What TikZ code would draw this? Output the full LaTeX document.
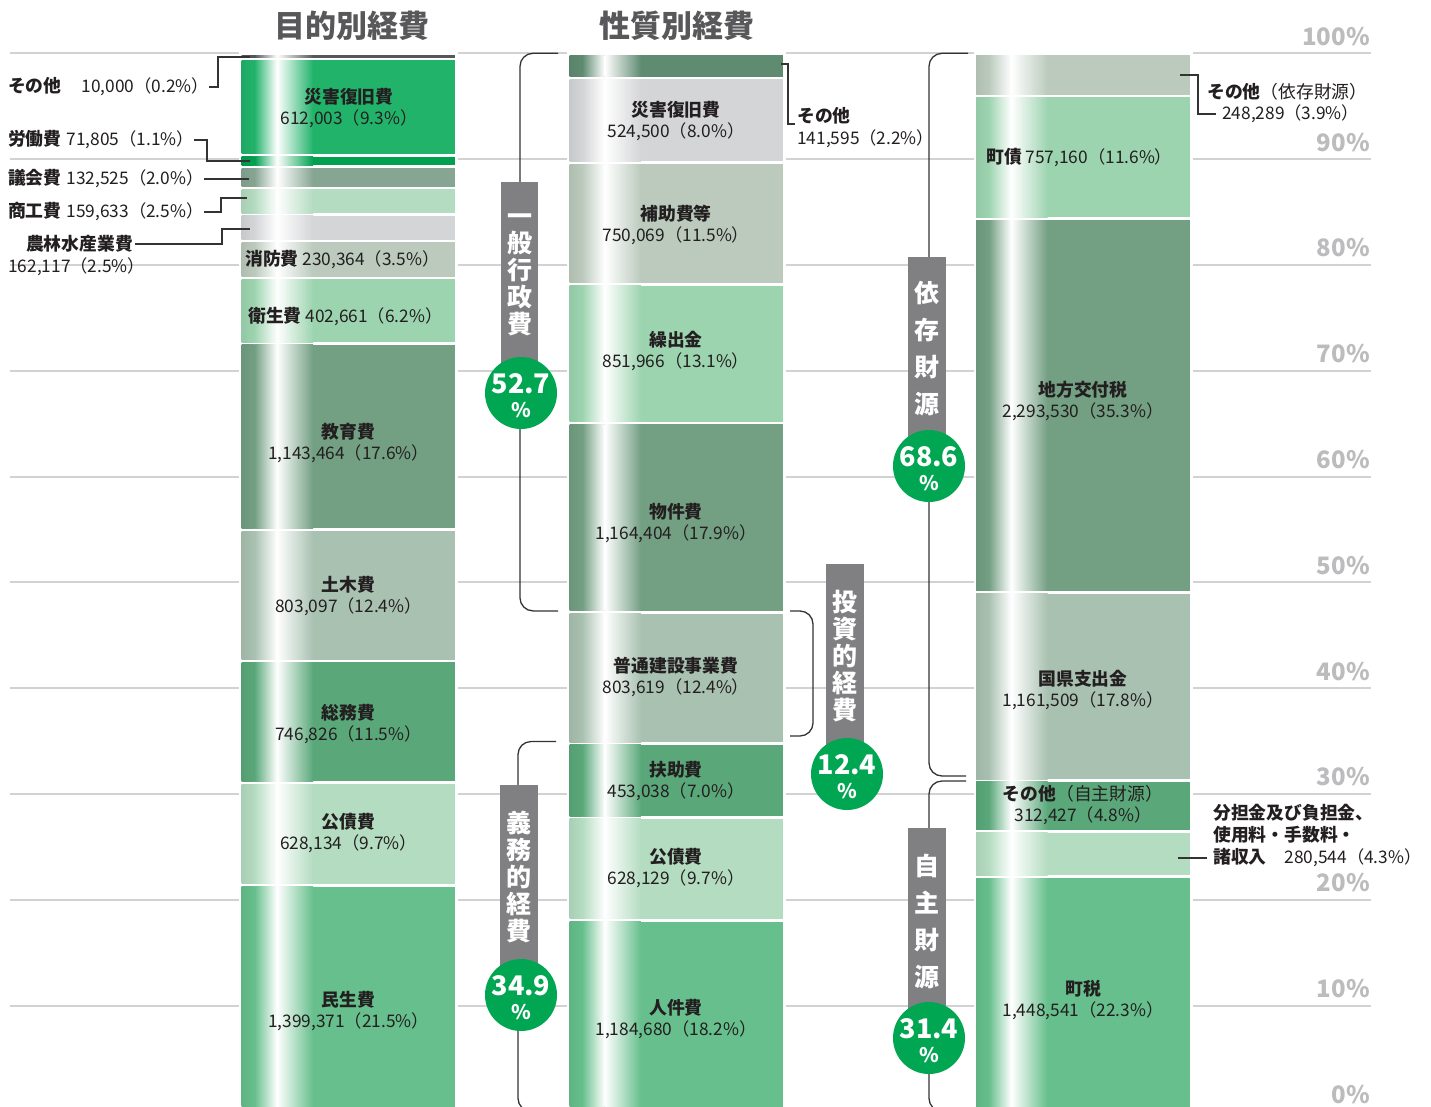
\documentclass[tikz,border=0pt]{standalone}
\usepackage{fontspec}
\setmainfont{Noto Sans CJK JP}
\usetikzlibrary{calc}
\definecolor{gridc}{HTML}{D2D2D3}
\definecolor{linec}{HTML}{333333}
\definecolor{txtc}{HTML}{231F20}
\definecolor{axc}{HTML}{BCBCBE}
\definecolor{titc}{HTML}{58585A}
\definecolor{boxc}{HTML}{808083}
\definecolor{badgec}{HTML}{00A651}
\definecolor{cDk}{HTML}{555759}
\definecolor{cSai}{HTML}{22B36B}
\definecolor{cRou}{HTML}{00A04F}
\definecolor{cGik}{HTML}{86A592}
\definecolor{cLt}{HTML}{B4DCC1}
\definecolor{cGr}{HTML}{D4D5D7}
\definecolor{cGg}{HTML}{BBCABD}
\definecolor{cMl}{HTML}{9DD4B0}
\definecolor{cDg}{HTML}{739F83}
\definecolor{cTg}{HTML}{A9C1B1}
\definecolor{cMg}{HTML}{5AA87A}
\definecolor{cMd}{HTML}{66BF8C}
\definecolor{cOt}{HTML}{5F8B71}
\newcommand\barseg[5]{%
  \pgfmathsetmacro\bsS{#1+0.06*(#2-#1)}%
  \pgfmathsetmacro\bsA{#1+0.165*(#2-#1)}%
  \pgfmathsetmacro\bsC{#1+0.335*(#2-#1)}%
  \fill[#5] (#1,#3) rectangle (#2,#4);
  \shade[left color=#5!94!black, right color=#5] (#1,#3) rectangle (\bsS,#4);
  \shade[left color=#5, right color=white] (\bsS,#3) rectangle (\bsA,#4);
  \shade[left color=white, right color=#5] (\bsA,#3) rectangle (\bsC,#4);
}
\newcommand\bt[1]{{\bfseries\fontsize{17.8}{20}\selectfont #1}}
\newcommand\inlab[5]{\node[bld] (#1a) at (#2,#3) {#4}; \node[num] (#1b) at (#2,#3+22) {#5};}
\begin{document}
\begin{tikzpicture}[x=1pt,y=-1pt,
  gridln/.style={draw=gridc, line width=2pt},
  brk/.style={draw=linec, line width=1.3pt, rounded corners=13pt},
  lead/.style={draw=linec, line width=1.2pt},
  num/.style={inner sep=0pt, text=txtc, font=\fontsize{17.3}{19}\selectfont},
  bld/.style={inner sep=0pt, text=txtc, font=\bfseries\fontsize{17.8}{20}\selectfont},
  axlbl/.style={inner sep=0pt, text=axc, font=\bfseries\fontsize{24}{26}\selectfont},
  ttl/.style={inner sep=0pt, text=titc, font=\bfseries\fontsize{31}{33}\selectfont},
  vtxt/.style={inner sep=0pt, text=white, align=center, font=\bfseries\fontsize{25}{27}\selectfont},
  vtxtw/.style={inner sep=0pt, text=white, align=center, font=\bfseries\fontsize{25}{37}\selectfont},
  badge/.style={circle, fill=badgec, minimum size=72pt, inner sep=0pt},
  bnum/.style={inner sep=0pt, text=white, font=\bfseries\fontsize{27}{28}\selectfont},
  bpct/.style={inner sep=0pt, text=white, font=\bfseries\fontsize{20}{22}\selectfont},
]
\clip (0,0) rectangle (1431,1106);
\fill[white] (0,0) rectangle (1431,1106);
% grid and axis labels
\foreach \p in {0,10,...,100} {
  \pgfmathsetmacro\gy{53.3+(100-\p)*10.58}
  \draw[gridln] (10,\gy) -- (1371,\gy);
  \node[axlbl, anchor=base east] (ax\p) at (1370,\gy-8) {\p\%};
}
% titles
\node[ttl] (t1) at (352,26) {目的別経費};
\node[ttl] (t2) at (677,26) {性質別経費};
% white bar backgrounds
\fill[white] (239,50) rectangle (458,1112);
\fill[white] (567,50) rectangle (785.5,1112);
\fill[white] (973.5,50) rectangle (1192.5,1112);
% column 1
\barseg{241.7}{455}{55.3}{57.5}{cDk}
\barseg{241.7}{455}{60}{153.8}{cSai}
\barseg{241.7}{455}{156.6}{165.4}{cRou}
\barseg{241.7}{455}{168.2}{186.6}{cGik}
\barseg{241.7}{455}{189.4}{213.0}{cLt}
\barseg{241.7}{455}{215.8}{239.5}{cGr}
\barseg{241.7}{455}{242.3}{276.5}{cGg}
\barseg{241.7}{455}{279.3}{342.1}{cMl}
\barseg{241.7}{455}{344.9}{528.3}{cDg}
\barseg{241.7}{455}{531.1}{659.5}{cTg}
\barseg{241.7}{455}{662.3}{781.2}{cMg}
\barseg{241.7}{455}{784.0}{883.8}{cLt}
\barseg{241.7}{455}{886.6}{1112}{cMd}
% column 2
\barseg{569.5}{782.7}{55}{76.6}{cOt}
\barseg{569.5}{782.7}{79.4}{161.2}{cGr}
\barseg{569.5}{782.7}{164.0}{282.9}{cGg}
\barseg{569.5}{782.7}{285.7}{421.5}{cMl}
\barseg{569.5}{782.7}{424.3}{610.9}{cDg}
\barseg{569.5}{782.7}{613.7}{742.1}{cTg}
\barseg{569.5}{782.7}{744.9}{816.1}{cMg}
\barseg{569.5}{782.7}{818.9}{918.8}{cLt}
\barseg{569.5}{782.7}{921.6}{1112}{cMd}
% column 3
\barseg{976}{1189.5}{55}{94.6}{cGg}
\barseg{976}{1189.5}{97.4}{217.3}{cMl}
\barseg{976}{1189.5}{220.1}{590.8}{cDg}
\barseg{976}{1189.5}{593.6}{779.1}{cTg}
\barseg{976}{1189.5}{781.9}{829.9}{cMg}
\barseg{976}{1189.5}{832.7}{875.4}{cLt}
\barseg{976}{1189.5}{878.2}{1112}{cMd}
% brackets
\coordinate (A1) at (558,53.3); \coordinate (A2) at (558,610.9);
\draw[brk] (A1) -- ++(-38,0) |- (A2);
\coordinate (B1) at (556,741.5); \coordinate (B2) at (556,1111.3);
\draw[brk] (B1) -- ++(-38,0) |- (B2);
\coordinate (C1) at (790,611); \coordinate (C2) at (790,736);
\draw[brk] (C1) -- ++(23,0) |- (C2);
\coordinate (D1) at (968,53.3); \coordinate (D2) at (966,776);
\draw[brk] (D1) -- ++(-39,0) |- (D2);
\coordinate (E1) at (966,781); \coordinate (E2) at (966,1111.3);
\draw[brk] (E1) -- ++(-37,0) |- (E2);
% category boxes and badges
\fill[boxc] (501,182) rectangle (538,393);
\node[vtxt] (g1t) at (519.5,275) {一\\般\\行\\政\\費};
\node[badge] (g1c) at (521,393) {};
\node[bnum] (g1n) at (521,384) {52.7};
\node[bpct] (g1p) at (521,410) {\%};
\fill[boxc] (500,785) rectangle (538,995);
\node[vtxt] (g2t) at (519,877) {義\\務\\的\\経\\費};
\node[badge] (g2c) at (521,995) {};
\node[bnum] (g2n) at (521,986) {34.9};
\node[bpct] (g2p) at (521,1012) {\%};
\fill[boxc] (826,564) rectangle (864,774);
\node[vtxt] (g3t) at (845,656) {投\\資\\的\\経\\費};
\node[badge] (g3c) at (847,774) {};
\node[bnum] (g3n) at (847,765) {12.4};
\node[bpct] (g3p) at (847,791) {\%};
\fill[boxc] (908,257) rectangle (946,466);
\node[vtxtw] (g4t) at (927,349) {依\\存\\財\\源};
\node[badge] (g4c) at (929,466) {};
\node[bnum] (g4n) at (929,457) {68.6};
\node[bpct] (g4p) at (929,483) {\%};
\fill[boxc] (908,828) rectangle (946,1038);
\node[vtxtw] (g5t) at (927,921.5) {自\\主\\財\\源};
\node[badge] (g5c) at (929,1038) {};
\node[bnum] (g5n) at (929,1029) {31.4};
\node[bpct] (g5p) at (929,1055) {\%};
% column 1 inner labels
\inlab{k1}{349}{97}{災害復旧費}{612,003（9.3\%）}
\node[num, anchor=west] (k2) at (245,260) {\bt{消防費} 230,364（3.5\%）};
\node[num, anchor=west] (k3) at (248,317) {\bt{衛生費} 402,661（6.2\%）};
\inlab{k4}{348.5}{432}{教育費}{1,143,464（17.6\%）}
\inlab{k5}{348.5}{585}{土木費}{803,097（12.4\%）}
\inlab{k6}{348.5}{713}{総務費}{746,826（11.5\%）}
\inlab{k7}{348.5}{822}{公債費}{628,134（9.7\%）}
\inlab{k8}{348.5}{1000}{民生費}{1,399,371（21.5\%）}
% column 1 outer labels
\node[num, anchor=west] (L1) at (8,87) {\bt{その他}\hspace{20pt}10,000（0.2\%）};
\node[num, anchor=west] (L2) at (8,140) {\bt{労働費}\hspace{5pt}71,805（1.1\%）};
\node[num, anchor=west] (L3) at (8,179) {\bt{議会費}\hspace{5pt}132,525（2.0\%）};
\node[num, anchor=west] (L4) at (8,212) {\bt{商工費}\hspace{5pt}159,633（2.5\%）};
\node[bld, anchor=east] (L5) at (133,244) {農林水産業費};
\node[num, anchor=west] (L5b) at (8,267) {162,117（2.5\%）};
\coordinate (q1) at (218,57); \coordinate (e1) at (250,57);
\draw[lead] (L1.east) -| (q1) -- (e1);
\coordinate (q2) at (207,161); \coordinate (e2) at (250,161);
\draw[lead] (L2.east) -| (q2) -- (e2);
\coordinate (e3) at (249,179);
\draw[lead] (L3.east) -- (e3);
\coordinate (q4) at (221,198); \coordinate (e4) at (247,198);
\draw[lead] (L4.east) -| (q4) -- (e4);
\coordinate (q5) at (222,229); \coordinate (e5) at (250,229);
\draw[lead] ([xshift=2pt]L5.east) -| (q5) -- (e5);
% column 2 labels
\inlab{m1}{676}{110}{災害復旧費}{524,500（8.0\%）}
\inlab{m2}{676}{214}{補助費等}{750,069（11.5\%）}
\inlab{m3}{676}{340}{繰出金}{851,966（13.1\%）}
\inlab{m4}{676}{512}{物件費}{1,164,404（17.9\%）}
\inlab{m5}{676}{666}{普通建設事業費}{803,619（12.4\%）}
\inlab{m6}{676}{770}{扶助費}{453,038（7.0\%）}
\inlab{m7}{676}{857}{公債費}{628,129（9.7\%）}
\inlab{m8}{676}{1008}{人件費}{1,184,680（18.2\%）}
\node[bld, anchor=west] (M0) at (797,116) {その他};
\node[num, anchor=west] (M0b) at (797,139) {141,595（2.2\%）};
\coordinate (s6) at (781,64); \coordinate (q6) at (788,124); \coordinate (e6) at (795,124);
\draw[lead] (s6) -| (q6) -- (e6);
% column 3 labels
\node[num, anchor=west] (n1) at (986,158) {\bt{町債} 757,160（11.6\%）};
\inlab{n2}{1083}{390}{地方交付税}{2,293,530（35.3\%）}
\inlab{n3}{1083}{679}{国県支出金}{1,161,509（17.8\%）}
\inlab{n4}{1083}{794}{その他{\mdseries（自主財源）}}{312,427（4.8\%）}
\inlab{n5}{1083}{989}{町税}{1,448,541（22.3\%）}
\node[bld, anchor=west] (N0) at (1207,92) {その他{\mdseries（依存財源）}};
\node[num, anchor=west] (N0b) at (1222,114) {248,289（3.9\%）};
\coordinate (s7) at (1180,75); \coordinate (q7) at (1198,114); \coordinate (e7) at (1216,114);
\draw[lead] (s7) -| (q7) -- (e7);
\node[bld, anchor=west] (P1) at (1213,813) {分担金及び負担金、};
\node[bld, anchor=west] (P2) at (1213,835) {使用料・手数料・};
\node[num, anchor=west] (P3) at (1213,858) {\bt{諸収入}\hspace{18pt}280,544（4.3\%）};
\coordinate (s8) at (1178,858);
\draw[lead] (s8) -- ([xshift=-6pt]P3.west);
\end{tikzpicture}
\end{document}
